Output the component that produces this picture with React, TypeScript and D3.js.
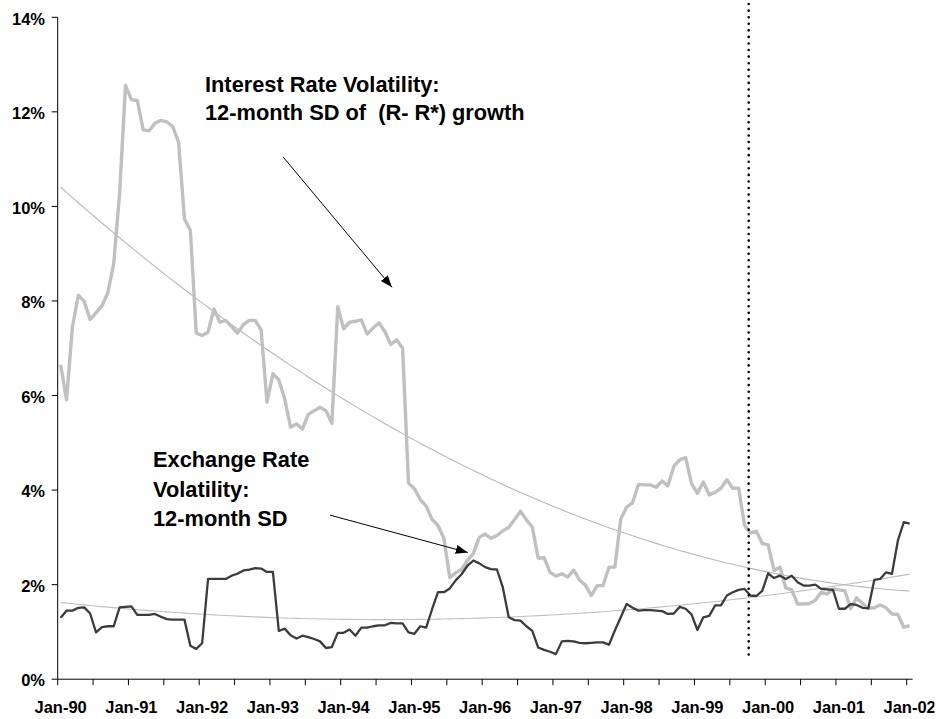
import React from 'react';
import * as d3 from 'd3';

const W = 939;
const H = 719;

// x-axis labels (one every 12 months, Jan-90 .. Jan-02)
const yearLabels = ['Jan-90', 'Jan-91', 'Jan-92', 'Jan-93', 'Jan-94', 'Jan-95', 'Jan-96', 'Jan-97', 'Jan-98', 'Jan-99', 'Jan-00', 'Jan-01', 'Jan-02'];
// y-axis ticks (percent)
const yTicks = [0, 2, 4, 6, 8, 10, 12, 14];

// Interest rate volatility: 12-month SD of (R - R*) growth, %, monthly Jan-90 .. Jan-02
const interestVol = [
  6.65, 5.91, 7.45, 8.12, 7.99, 7.61, 7.75, 7.90, 8.17, 8.79,
  10.27, 12.56, 12.26, 12.24, 11.62, 11.60, 11.76, 11.82, 11.79, 11.69,
  11.36, 9.74, 9.49, 7.32, 7.27, 7.34, 7.83, 7.55, 7.59, 7.46,
  7.32, 7.50, 7.59, 7.59, 7.39, 5.86, 6.46, 6.33, 5.93, 5.33,
  5.40, 5.29, 5.60, 5.68, 5.75, 5.68, 5.41, 7.88, 7.41, 7.55,
  7.57, 7.60, 7.30, 7.43, 7.54, 7.35, 7.08, 7.18, 7.00, 4.15,
  4.03, 3.80, 3.66, 3.38, 3.25, 2.98, 2.15, 2.25, 2.32, 2.51,
  2.66, 3.00, 3.07, 2.98, 3.04, 3.14, 3.21, 3.38, 3.55, 3.37,
  3.22, 2.56, 2.57, 2.26, 2.18, 2.23, 2.16, 2.31, 2.10, 1.99,
  1.77, 1.98, 1.98, 2.37, 2.37, 3.39, 3.64, 3.73, 4.12, 4.11,
  4.11, 4.06, 4.19, 4.09, 4.50, 4.64, 4.69, 4.14, 3.93, 4.17,
  3.90, 3.95, 4.04, 4.22, 4.04, 4.04, 3.25, 3.09, 3.13, 2.87,
  2.84, 2.30, 2.37, 1.93, 1.89, 1.59, 1.59, 1.60, 1.67, 1.84,
  1.80, 1.91, 1.89, 1.87, 1.49, 1.72, 1.60, 1.50, 1.51, 1.57,
  1.51, 1.38, 1.37, 1.10, 1.13,
];

// Exchange rate volatility: 12-month SD, %, monthly Jan-90 .. Jan-02
const exchangeVol = [
  1.30, 1.45, 1.45, 1.51, 1.52, 1.39, 0.99, 1.10, 1.12, 1.12,
  1.52, 1.53, 1.54, 1.36, 1.36, 1.36, 1.38, 1.32, 1.27, 1.26,
  1.26, 1.26, 0.71, 0.64, 0.76, 2.12, 2.12, 2.12, 2.12, 2.19,
  2.23, 2.30, 2.32, 2.35, 2.34, 2.27, 2.27, 1.02, 1.07, 0.93,
  0.86, 0.92, 0.89, 0.85, 0.80, 0.66, 0.68, 0.98, 0.98, 1.05,
  0.92, 1.09, 1.09, 1.12, 1.14, 1.14, 1.19, 1.18, 1.18, 0.99,
  0.96, 1.12, 1.09, 1.48, 1.84, 1.84, 1.92, 2.09, 2.22, 2.40,
  2.51, 2.45, 2.37, 2.33, 2.32, 1.94, 1.31, 1.25, 1.24, 1.12,
  1.02, 0.67, 0.62, 0.58, 0.53, 0.80, 0.81, 0.80, 0.77, 0.76,
  0.77, 0.78, 0.78, 0.73, 1.03, 1.31, 1.59, 1.51, 1.45, 1.46,
  1.46, 1.45, 1.44, 1.38, 1.39, 1.53, 1.49, 1.37, 1.04, 1.31,
  1.34, 1.56, 1.56, 1.77, 1.84, 1.89, 1.91, 1.77, 1.76, 1.87,
  2.24, 2.14, 2.19, 2.12, 2.19, 2.05, 1.98, 1.98, 2.00, 1.91,
  1.90, 1.89, 1.49, 1.49, 1.59, 1.57, 1.51, 1.50, 2.10, 2.12,
  2.26, 2.23, 2.93, 3.32, 3.29,
];

// vertical event marker (month index on the category axis)
const eventMonth = 116.7;

// second-order polynomial trend (least squares), like a spreadsheet trendline
function quadTrend(ys: number[]): number[] {
  const n = ys.length;
  const c = (n - 1) / 2;
  let s0 = 0, s1 = 0, s2 = 0, s3 = 0, s4 = 0, t0 = 0, t1 = 0, t2 = 0;
  ys.forEach((y, i) => {
    const x = i - c;
    s0 += 1; s1 += x; s2 += x * x; s3 += x * x * x; s4 += x * x * x * x;
    t0 += y; t1 += x * y; t2 += x * x * y;
  });
  const det3 = (m: number[][]) =>
    m[0][0] * (m[1][1] * m[2][2] - m[1][2] * m[2][1]) -
    m[0][1] * (m[1][0] * m[2][2] - m[1][2] * m[2][0]) +
    m[0][2] * (m[1][0] * m[2][1] - m[1][1] * m[2][0]);
  const A = [[s0, s1, s2], [s1, s2, s3], [s2, s3, s4]];
  const b = [t0, t1, t2];
  const D = det3(A);
  const coef = [0, 1, 2].map((k) => {
    const M = A.map((row, r) => row.map((v, col) => (col === k ? b[r] : v)));
    return det3(M) / D;
  });
  return ys.map((_, i) => {
    const x = i - c;
    return coef[0] + coef[1] * x + coef[2] * x * x;
  });
}

const FONT = '"Liberation Sans", Arial, Helvetica, sans-serif';

export default function App() {
  const n = interestVol.length;
  const x = d3.scaleLinear().domain([0, n]).range([57.7, 912.6]);
  const y = d3.scaleLinear().domain([0, 14]).range([679.2, 17.3]);
  const px = (i: number) => x(i + 0.5);

  const line = d3
    .line<number>()
    .x((_, i) => px(i))
    .y((d) => y(d));

  const interestTrend = quadTrend(interestVol);
  const exchangeTrend = quadTrend(exchangeVol);

  const tickMonths = d3.range(0, n, 6);
  const labelMonths = yearLabels.map((_, k) => k * 12);

  const ex = px(eventMonth);

  // arrow endpoints in data space: [month, percent]
  const arrow1 = { from: [38.2, 11.05], to: [56.7, 8.29] };
  const arrow2 = { from: [46.2, 3.47], to: [69.55, 2.68] };

  return (
    <svg
      width={W}
      height={H}
      viewBox={`0 0 ${W} ${H}`}
      style={{ position: 'absolute', left: 0, top: 0, display: 'block', background: '#fff' }}
      fontFamily={FONT}
    >
      <defs>
        <marker id="ah" markerUnits="userSpaceOnUse" markerWidth={13} markerHeight={10} refX={12} refY={4.5} orient="auto">
          <path d="M0,0 L12,4.5 L0,9 Z" fill="#000" />
        </marker>
        <clipPath id="chartClip">
          <rect x={0} y={0} width={934.5} height={H} />
        </clipPath>
      </defs>
      <rect x={0} y={0} width={W} height={H} fill="#fff" />

      {/* trend lines */}
      <path d={line(interestTrend) || ''} fill="none" stroke="#b8b8b8" strokeWidth={1.1} />
      <path d={line(exchangeTrend) || ''} fill="none" stroke="#c0c0c0" strokeWidth={1.1} />

      {/* series */}
      <path d={line(interestVol) || ''} fill="none" stroke="#c0c0c0" strokeWidth={3.4} strokeLinejoin="round" />
      <path d={line(exchangeVol) || ''} fill="none" stroke="#3c3c3c" strokeWidth={2.3} strokeLinejoin="round" />

      {/* event marker */}
      <line x1={ex} x2={ex} y1={y(14.28)} y2={y(0.5)} stroke="#000" strokeWidth={2.6} strokeDasharray="0 6.57" strokeLinecap="round" />

      {/* axes */}
      <line x1={x(0)} x2={x(0)} y1={y(14)} y2={y(0)} stroke="#000" strokeWidth={1} />
      <line x1={x(0)} x2={x(n)} y1={y(0)} y2={y(0)} stroke="#000" strokeWidth={1} />
      {yTicks.map((t) => (
        <g key={'y' + t}>
          <line x1={x(0) - 6} x2={x(0)} y1={y(t)} y2={y(t)} stroke="#000" strokeWidth={1} />
          <text x={45} y={y(t) + 7.2} textAnchor="end" fontSize={16.5} fontWeight="bold" fill="#000">
            {t}%
          </text>
        </g>
      ))}
      {tickMonths.map((m) => (
        <line key={'xt' + m} x1={x(m)} x2={x(m)} y1={y(0)} y2={y(0) + 6} stroke="#000" strokeWidth={1} />
      ))}
      <g clipPath="url(#chartClip)">
        {labelMonths.map((m, k) => (
          <text key={'xl' + m} x={px(m)} y={713} textAnchor="middle" fontSize={16.5} fontWeight="bold" fill="#000">
            {yearLabels[k]}
          </text>
        ))}
      </g>

      {/* annotations */}
      <text x={205} y={91.5} fontSize={21.8} fontWeight="bold" fill="#000" style={{ whiteSpace: 'pre' }}>
        Interest Rate Volatility:
      </text>
      <text x={205} y={120.3} fontSize={21.8} fontWeight="bold" fill="#000" style={{ whiteSpace: 'pre' }}>
        {'12-month SD of  (R- R*) growth'}
      </text>
      <text x={153} y={467.3} fontSize={21.8} fontWeight="bold" fill="#000">Exchange Rate</text>
      <text x={153} y={496.9} fontSize={21.8} fontWeight="bold" fill="#000">Volatility:</text>
      <text x={153} y={526.3} fontSize={21.8} fontWeight="bold" fill="#000">12-month SD</text>

      <line
        x1={x(arrow1.from[0])} y1={y(arrow1.from[1])}
        x2={x(arrow1.to[0])} y2={y(arrow1.to[1])}
        stroke="#000" strokeWidth={1} markerEnd="url(#ah)"
      />
      <line
        x1={x(arrow2.from[0])} y1={y(arrow2.from[1])}
        x2={x(arrow2.to[0])} y2={y(arrow2.to[1])}
        stroke="#000" strokeWidth={1} markerEnd="url(#ah)"
      />
    </svg>
  );
}
